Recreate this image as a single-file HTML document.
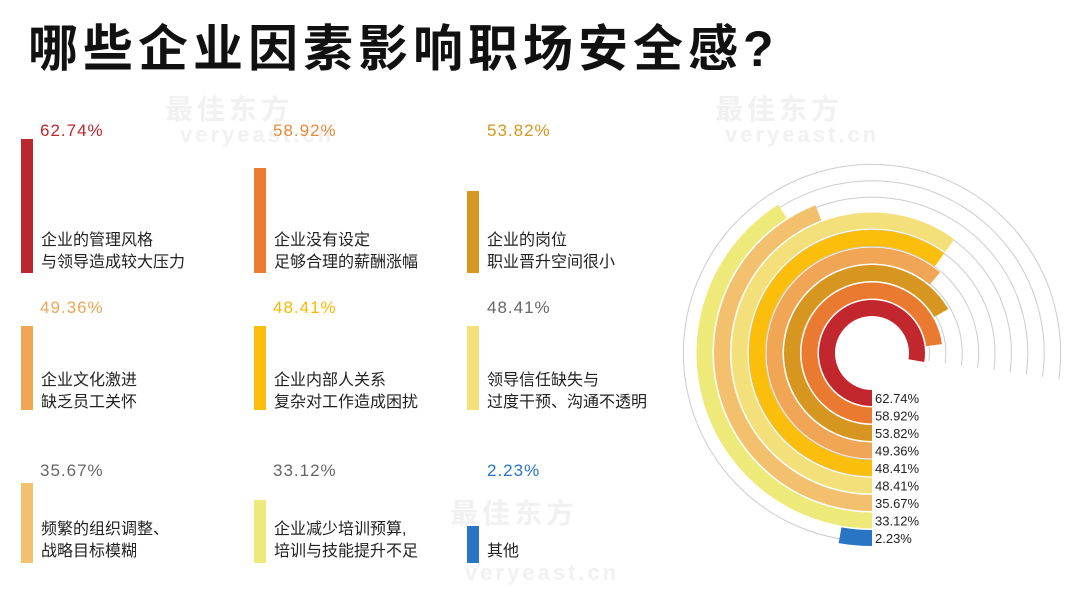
<!DOCTYPE html>
<html><head><meta charset="utf-8"><style>
body{margin:0;width:1080px;height:591px;background:#fff;overflow:hidden;position:relative;font-family:"Liberation Sans","Noto Sans CJK SC",sans-serif}
.t{position:absolute;left:28px;top:9px;font-size:50px;font-weight:bold;color:#111;letter-spacing:5px;white-space:nowrap}
.b{position:absolute;width:12px}
.p{position:absolute;font-size:17px;letter-spacing:1px}
.l{position:absolute;font-size:16px;line-height:22px;color:#222}
.wm{position:absolute;color:#f1f1f1;font-weight:bold;font-size:28px;letter-spacing:4px}
.wm2{position:absolute;color:#f1f1f1;font-weight:bold;font-size:22px;letter-spacing:3px}
</style></head><body>
<div class="wm" style="left:165px;top:88px">最佳东方</div><div class="wm2" style="left:180px;top:122px">veryeast.cn</div>
<div class="wm" style="left:715px;top:88px">最佳东方</div><div class="wm2" style="left:725px;top:122px">veryeast.cn</div>
<div class="wm" style="left:450px;top:492px">最佳东方</div><div class="wm2" style="left:465px;top:560px">veryeast.cn</div>
<div class="t">哪些企业因素影响职场安全感?</div>

<div class="p" style="left:40px;top:121px;color:#b8282e">62.74%</div>
<div class="b" style="left:21px;top:139px;height:134px;background:#b8282e"></div>
<div class="l" style="left:41px;top:230px">企业的管理风格<br>与领导造成较大压力</div>

<div class="p" style="left:273px;top:121px;color:#e88a3a">58.92%</div>
<div class="b" style="left:254px;top:168px;height:105px;background:#ea7d32"></div>
<div class="l" style="left:274px;top:230px">企业没有设定<br>足够合理的薪酬涨幅</div>

<div class="p" style="left:487px;top:121px;color:#d6961f">53.82%</div>
<div class="b" style="left:467px;top:191px;height:82px;background:#d6961f"></div>
<div class="l" style="left:487px;top:230px">企业的岗位<br>职业晋升空间很小</div>

<div class="p" style="left:40px;top:298px;color:#f0a655">49.36%</div>
<div class="b" style="left:21px;top:326px;height:84px;background:#f0a655"></div>
<div class="l" style="left:41px;top:370px">企业文化激进<br>缺乏员工关怀</div>

<div class="p" style="left:273px;top:298px;color:#f6b800">48.41%</div>
<div class="b" style="left:254px;top:326px;height:84px;background:#fbbe0a"></div>
<div class="l" style="left:274px;top:370px">企业内部人关系<br>复杂对工作造成困扰</div>

<div class="p" style="left:487px;top:298px;color:#666">48.41%</div>
<div class="b" style="left:467px;top:326px;height:84px;background:#f4e07a"></div>
<div class="l" style="left:487px;top:370px">领导信任缺失与<br>过度干预、沟通不透明</div>

<div class="p" style="left:40px;top:461px;color:#666">35.67%</div>
<div class="b" style="left:21px;top:483px;height:80px;background:#f3c06e"></div>
<div class="l" style="left:41px;top:519px">频繁的组织调整、<br>战略目标模糊</div>

<div class="p" style="left:273px;top:461px;color:#666">33.12%</div>
<div class="b" style="left:254px;top:500px;height:63px;background:#eeea7a"></div>
<div class="l" style="left:274px;top:519px">企业减少培训预算,<br>培训与技能提升不足</div>

<div class="p" style="left:487px;top:461px;color:#2a74c6">2.23%</div>
<div class="b" style="left:467px;top:526px;height:37px;background:#2a74c6"></div>
<div class="l" style="left:487px;top:541px">其他</div>

<svg id="s" width="1080" height="591" style="position:absolute;left:0;top:0"></svg>
<script>
var s=document.getElementById('s'),cx=872,cy=353,h='';
function arc(r,a0,a1){var t0=a0*Math.PI/180,t1=a1*Math.PI/180;
return 'M'+(cx+r*Math.cos(t0))+' '+(cy+r*Math.sin(t0))+' A'+r+' '+r+' 0 '+((a1-a0)>180?1:0)+' 1 '+(cx+r*Math.cos(t1))+' '+(cy+r*Math.sin(t1));}
for(var k=0;k<10;k++){h+='<path d="'+arc(41+16.4*k,90,368)+'" fill="none" stroke="#ccc" stroke-width="1"/>';}
var v=[62.74,58.92,53.82,49.36,48.41,48.41,35.67,33.12,2.23],
c=['#c1272d','#ea7a30','#d6961f','#f0a655','#fbbe0a','#f4e07a','#f3c06e','#eeea7a','#2a74c6'],
lb=['62.74%','58.92%','53.82%','49.36%','48.41%','48.41%','35.67%','33.12%','2.23%'];
for(var i=0;i<9;i++){var r=45+17.5*i;
h+='<path d="'+arc(r,90,90+v[i]*4.46)+'" fill="none" stroke="'+c[i]+'" stroke-width="16"/>';
h+='<text x="875" y="'+(cy+r+5)+'" font-size="13" font-family="Liberation Sans" fill="#222">'+lb[i]+'</text>';}
s.innerHTML=h;
</script>
</body></html>
